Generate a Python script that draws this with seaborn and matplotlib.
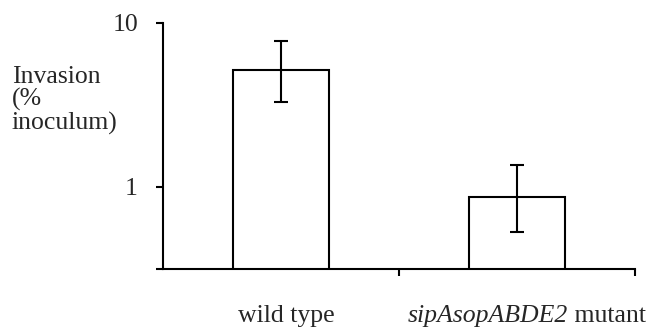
import matplotlib
matplotlib.use("Agg")
import matplotlib.pyplot as plt
import seaborn as sns
import pandas as pd
import numpy as np

categories = ["wild type", "sipAsopABDE2 mutant"]
invasion = [5.15, 0.86]
err_upper = [7.73, 1.35]
err_lower = [3.30, 0.53]
ytick_values = [1, 10]
ytick_labels = ["1", "10"]

sns.set_style("white")
plt.rcParams['font.family'] = ['Liberation Serif', 'DejaVu Serif']

FS = 18.5
LW = 1.5
W, H = 647, 332

fig = plt.figure(figsize=(6.47, 3.32), dpi=100)
ax = fig.add_axes([163/W, 1-269.3/H, (635-163)/W, (269.3-22.7)/H])

df = pd.DataFrame({"strain": categories, "invasion": invasion})
sns.barplot(data=df, x="strain", y="invasion", ax=ax, color="white",
            edgecolor="black", linewidth=LW, width=0.41, errorbar=None,
            saturation=1)

x = np.arange(len(categories))
inv = np.array(invasion)
yerr = np.vstack([inv - np.array(err_lower), np.array(err_upper) - inv])
ax.errorbar(x, inv, yerr=yerr, fmt="none", ecolor="black", elinewidth=LW,
            capsize=5, capthick=LW)

ax.set_yscale("log")
ylo = 0.313
ax.set_ylim(ylo, 10)
ax.set_xlim(-0.5, 1.5)

ax.set_yticks(ytick_values)
ax.set_yticklabels(ytick_labels, fontsize=FS)
ax.set_yticks([ylo], minor=True)
ax.yaxis.set_minor_formatter(matplotlib.ticker.NullFormatter())
ax.tick_params(axis="y", which="both", direction="out", length=5, width=LW,
               color="black", left=True, pad=13)

ax.set_xticks(x)
ax.set_xticklabels(["", ""])
ax.set_xticks([0.5, 1.5], minor=True)
ax.tick_params(axis="x", which="major", length=0)
ax.tick_params(axis="x", which="minor", direction="out", length=5, width=LW,
               color="black", bottom=True)

for s in ["top", "right"]:
    ax.spines[s].set_visible(False)
for s in ["left", "bottom"]:
    ax.spines[s].set_color("black")
    ax.spines[s].set_linewidth(LW)

ax.set_xlabel("")
ax.set_ylabel("")

# category labels
base_y = 1 - 322/H
fig.text(286/W, base_y, categories[0], fontsize=FS, ha="center", va="baseline")
gene, rest = categories[1].split(" ", 1)
fig.text(568/W, base_y, gene, fontsize=FS, ha="right", va="baseline",
         style="italic")
fig.text(568/W, base_y, " " + rest, fontsize=FS, ha="left", va="baseline")

fig.text(12/W, 1-66/H, "Invasion\n(%\ninoculum)", fontsize=FS,
         ha="left", va="top", linespacing=1.02)

fig.savefig("out.png", dpi=100, facecolor="white")
